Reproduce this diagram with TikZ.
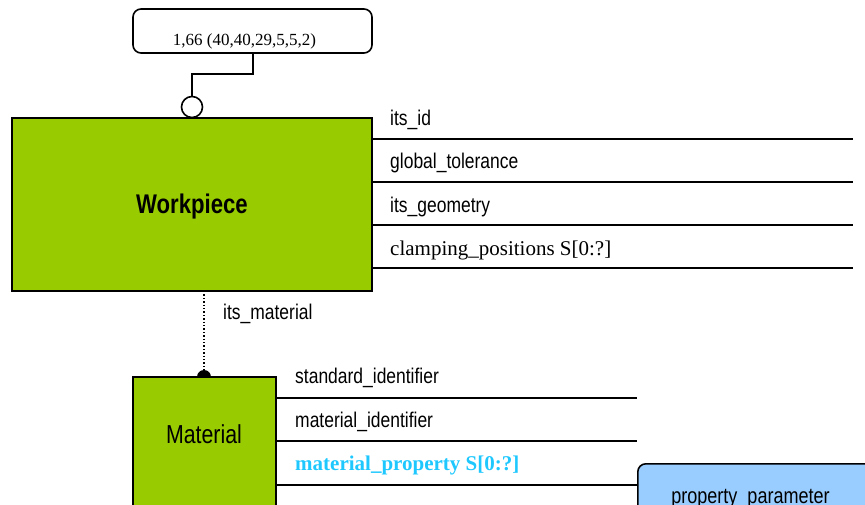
\documentclass[tikz,border=0pt]{standalone}
\usepackage{fontspec}
\setmainfont{Liberation Serif}
\newfontfamily\nsans[FakeStretch=0.82]{Liberation Sans}
\definecolor{wpgreen}{RGB}{153,204,0}
\definecolor{propblue}{RGB}{153,204,255}
\definecolor{attcyan}{RGB}{30,200,255}
\tikzset{
  entbox/.style={draw=black, line width=2pt, fill=wpgreen, inner sep=0pt},
  attline/.style={line width=2pt},
  attlabel/.style={anchor=base west, inner sep=0pt, font=\fontsize{21}{21}\selectfont},
  sanslabel/.style={anchor=base west, inner sep=0pt, font=\nsans\fontsize{21.3}{21.3}\selectfont},
  rbox/.style={draw=black, line width=1.6pt, rounded corners=8pt, inner sep=0pt},
}
\begin{document}
\begin{tikzpicture}[x=1pt,y=-1pt]
\useasboundingbox (0,0) rectangle (865,504);
\clip (0,0) rectangle (865,504);
% top annotation box
\node[rbox, fill=white, minimum width=239pt, minimum height=44pt] (note) at (252.5,31) {};
\node[anchor=base, inner sep=0pt, font=\fontsize{17}{17}\selectfont] (notetxt) at (244.5,45) {1,66 (40,40,29,5,5,2)};
% workpiece box
\node[entbox, minimum width=360pt, minimum height=173pt] (wp) at (192,204.5) {};
\node[anchor=base, inner sep=0pt, font=\nsans\bfseries\fontsize{27}{27}\selectfont] (wptxt) at (192,213) {Workpiece};
% connector to note
\node[draw=black, line width=1.6pt, fill=white, circle, minimum size=21pt, inner sep=0pt] (ring) at (192,107) {};
\coordinate (bend1) at (253,74);
\coordinate (bend2) at (192,74);
\draw[line width=1.6pt] (note.south -| bend1) -- (bend1) -- (bend2) -- (ring.north);
% workpiece attributes
\foreach \yy/\nm in {139/a1,182/a2,225/a3,268/a4}{
  \coordinate (\nm s) at (372,\yy);
  \coordinate (\nm e) at (853,\yy);
  \draw[attline] (\nm s) -- (\nm e);
}
\node[sanslabel] (l1) at (390,125) {its\_id};
\node[sanslabel] (l2) at (390,168) {global\_tolerance};
\node[sanslabel] (l3) at (390,212) {its\_geometry};
\node[attlabel] (l4) at (390,255) {clamping\_positions S[0:?]};
% material box
\node[entbox, minimum width=143pt, minimum height=140pt] (mat) at (204.5,447) {};
\node[anchor=base, inner sep=0pt, font=\nsans\fontsize{26}{26}\selectfont] (mattxt) at (204,443) {Material};
% relation wp -> material
\coordinate (wpbot) at (204,291);
\coordinate (mattop) at (204,377);
\draw[line width=1.4pt, dotted] (wpbot) -- (mattop);
\fill (mattop) ++(-7,0) arc[start angle=180, end angle=0, x radius=7, y radius=-7] -- cycle;
\node[sanslabel] (rel) at (223,319) {its\_material};
% material attributes
\foreach \yy/\nm in {398/b1,441/b2,485/b3}{
  \coordinate (\nm s) at (276,\yy);
  \coordinate (\nm e) at (637,\yy);
  \draw[attline] (\nm s) -- (\nm e);
}
\node[sanslabel] (m1) at (295,383) {standard\_identifier};
\node[sanslabel] (m2) at (295,427) {material\_identifier};
\node[attlabel, text=attcyan, font=\bfseries\fontsize{21}{21}\selectfont] (m3) at (295,470) {material\_property S[0:?]};
% property parameter box
\node[rbox, fill=propblue, minimum width=260pt, minimum height=80pt, anchor=north west] (prop) at (637,463) {};
\node[anchor=base, inner sep=0pt, font=\nsans\fontsize{22}{22}\selectfont] (proptxt) at (750.5,503) {property\_parameter};
\end{tikzpicture}
\end{document}
